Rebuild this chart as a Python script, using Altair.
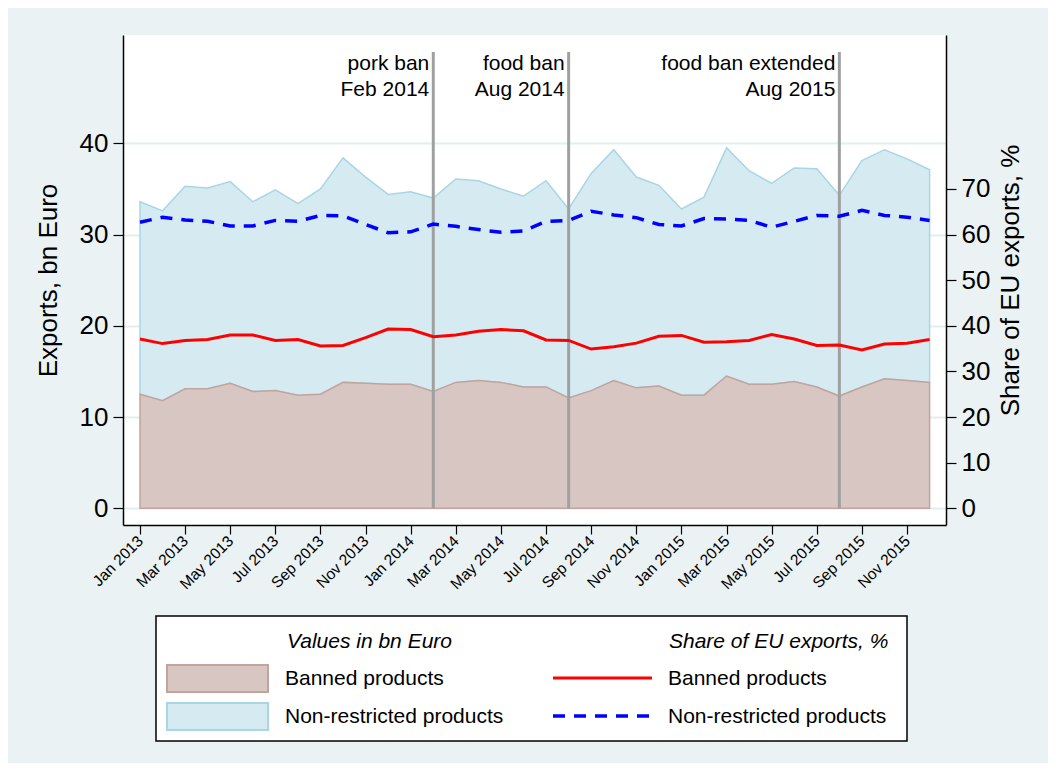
import altair as alt
import pandas as pd

FONT = "Liberation Sans"

# ---- data (monthly, Jan 2013 .. Dec 2015) ----
month_index = list(range(36))
tick_labels = ["Jan 2013", "Mar 2013", "May 2013", "Jul 2013", "Sep 2013", "Nov 2013",
               "Jan 2014", "Mar 2014", "May 2014", "Jul 2014", "Sep 2014", "Nov 2014",
               "Jan 2015", "Mar 2015", "May 2015", "Jul 2015", "Sep 2015", "Nov 2015"]

banned_bn = [12.5, 11.8, 13.1, 13.1, 13.7, 12.8, 12.9, 12.4, 12.5, 13.8, 13.7, 13.6,
             13.6, 12.8, 13.8, 14.0, 13.8, 13.3, 13.3, 12.1, 12.9, 14.0, 13.2, 13.4,
             12.4, 12.4, 14.5, 13.6, 13.6, 13.9, 13.3, 12.3, 13.3, 14.2, 14.0, 13.8]
nonrestricted_bn = [21.1, 20.8, 22.2, 22.0, 22.1, 20.8, 22.0, 21.0, 22.5, 24.6, 22.6, 20.8,
                    21.1, 21.2, 22.3, 21.9, 21.2, 20.9, 22.6, 20.7, 23.8, 25.3, 23.1, 22.0,
                    20.4, 21.7, 25.0, 23.4, 22.0, 23.4, 23.9, 22.0, 24.8, 25.1, 24.3, 23.3]
banned_share = [37.1, 36.1, 36.8, 37.0, 38.0, 38.0, 36.8, 37.0, 35.6, 35.7, 37.4, 39.3,
                 39.2, 37.6, 38.0, 38.8, 39.2, 38.9, 36.9, 36.8, 34.9, 35.4, 36.2, 37.7,
                 37.9, 36.4, 36.5, 36.8, 38.1, 37.1, 35.7, 35.8, 34.7, 36.0, 36.2, 37.0]
nonrestricted_share = [62.7, 63.8, 63.2, 62.9, 61.9, 61.9, 63.1, 62.9, 64.2, 64.1, 62.2, 60.4,
                       60.6, 62.3, 61.8, 61.1, 60.5, 60.8, 62.9, 63.1, 65.1, 64.3, 63.7, 62.2,
                       61.9, 63.5, 63.4, 63.1, 61.6, 62.9, 64.2, 64.0, 65.3, 64.2, 63.8, 63.1]

event_months = [13, 19, 31]
event_labels = ["pork ban\nFeb 2014", "food ban\nAug 2014", "food ban extended\nAug 2015"]

legend_headers = ["Values in bn Euro", "Share of EU exports, %"]
legend_series = ["Banned products", "Non-restricted products"]

# ---- tables ----
df = pd.DataFrame({
    "idx": month_index,
    "banned": banned_bn,
    "nonres": nonrestricted_bn,
    "share_b": banned_share,
    "share_n": nonrestricted_share,
})
df["total"] = df["banned"] + df["nonres"]
events = pd.DataFrame({"idx": event_months, "label": event_labels})
one = pd.DataFrame({"row": [0]})

# ---- scales / axes ----
x_scale = alt.Scale(domain=[-0.7535, 35.727], nice=False, zero=False)
yl_scale = alt.Scale(domain=[-1.83, 51.87], nice=False, zero=False)
yr_scale = alt.Scale(domain=[-3.66, 103.74], nice=False, zero=False)

label_expr = "[" + ",".join("'%s'" % t for t in tick_labels) + "][round(datum.value / 2)]"

x_axis = alt.Axis(values=list(range(0, 36, 2)), labelExpr=label_expr, labelAngle=315,
                  labelAlign="right", labelBaseline="middle", labelFontSize=15.5,
                  labelOverlap=False, labelFlush=False,
                  labelPadding=4, tickSize=9, tickWidth=1.2, tickColor="black",
                  domainColor="black", domainWidth=1.5, grid=False, title=None)
left_axis = alt.Axis(values=[0, 10, 20, 30, 40], tickSize=10, tickWidth=1.2, tickColor="black",
                     domainColor="black", domainWidth=1.5, labelFontSize=26, labelPadding=5,
                     grid=True, gridColor="#E3EDF0", gridWidth=2,
                     title="Exports, bn Euro", titleFontSize=26, titlePadding=18)
right_axis = alt.Axis(orient="right", values=list(range(0, 80, 10)), tickSize=10, tickWidth=1.2,
                      tickColor="black", domainColor="black", domainWidth=1.5,
                      labelFontSize=26, labelPadding=5, grid=False,
                      title="Share of EU exports, %", titleFontSize=26, titleAngle=270,
                      titleBaseline="top", titlePadding=8)

X = alt.X("idx:Q", scale=x_scale, axis=x_axis)
base = alt.Chart(df)

area_nonres = base.mark_area(fill="#D5EBF1", stroke="#A9D6E4", strokeWidth=1.5).encode(
    x=X,
    y=alt.Y("total:Q", scale=yl_scale, axis=left_axis, stack=None),
    y2=alt.Y2("banned:Q"),
)
area_banned = base.mark_area(fill="#D8C6C3", stroke="#C2A49F", strokeWidth=1.5).encode(
    x=X,
    y=alt.Y("banned:Q", scale=yl_scale, axis=left_axis, stack=None),
    y2=alt.datum(0),
)
event_rules = alt.Chart(events).mark_rule(color="#A0A0A0", strokeWidth=3).encode(
    x=X,
    y=alt.Y(datum=0, scale=yl_scale, axis=left_axis),
    y2=alt.value(17),
)
event_text = alt.Chart(events).mark_text(align="right", baseline="top", dx=-4, fontSize=21,
                                         lineBreak="\n", lineHeight=26, font=FONT,
                                         color="black").encode(
    x=X,
    y=alt.value(18),
    text="label:N",
)
left = alt.layer(area_nonres, area_banned, event_rules, event_text)

line_b = base.mark_line(color="#FF0000", strokeWidth=3).encode(
    x=X,
    y=alt.Y("share_b:Q", scale=yr_scale, axis=right_axis),
)
line_n = base.mark_line(color="#0000FF", strokeWidth=3.5, strokeDash=[12, 9]).encode(
    x=X,
    y=alt.Y("share_n:Q", scale=yr_scale, axis=right_axis),
)
right = alt.layer(line_b, line_n)

# ---- legend (drawn as chrome below the plot) ----
lg = alt.Chart(one)
legend_box = lg.mark_rect(fill="white", stroke="black", strokeWidth=1.5).encode(
    x=alt.value(33), x2=alt.value(784), y=alt.value(581), y2=alt.value(706))
sw_b = lg.mark_rect(fill="#D8C6C3", stroke="#C2A49F", strokeWidth=2).encode(
    x=alt.value(44), x2=alt.value(145), y=alt.value(630), y2=alt.value(657))
sw_n = lg.mark_rect(fill="#D5EBF1", stroke="#A9D6E4", strokeWidth=2).encode(
    x=alt.value(44), x2=alt.value(145), y=alt.value(668), y2=alt.value(695))
ln_b = lg.mark_rule(color="#FF0000", strokeWidth=3).encode(
    x=alt.value(430), x2=alt.value(529), y=alt.value(643))
ln_n = lg.mark_rule(color="#0000FF", strokeWidth=3.5, strokeDash=[12, 9]).encode(
    x=alt.value(430), x2=alt.value(529), y=alt.value(681))

def ltext(txt, x, y, italic=False):
    return lg.mark_text(align="left", baseline="middle", fontSize=21, font=FONT, color="black",
                        fontStyle="italic" if italic else "normal").encode(
        x=alt.value(x), y=alt.value(y), text=alt.value(txt))

legend_layers = [
    legend_box, sw_b, sw_n, ln_b, ln_n,
    ltext(legend_headers[0], 164, 607, True),
    ltext(legend_headers[1], 546, 607, True),
    ltext(legend_series[0], 162, 644),
    ltext(legend_series[1], 162, 682),
    ltext(legend_series[0], 545, 644),
    ltext(legend_series[1], 545, 682),
]

chart = alt.layer(left, right, *legend_layers).resolve_scale(y="independent").properties(
    width=823, height=490, background="#EAF2F3",
    autosize=alt.AutoSizeParams(type="none"),
    padding={"left": 115, "top": 27, "right": 102, "bottom": 238},
).configure_view(fill="white", stroke=None).configure_axis(
    labelFont=FONT, titleFont=FONT, labelColor="black", titleColor="black",
    titleFontWeight="normal",
)

chart.save("out.html", embed_options={"renderer": "svg", "actions": False})
